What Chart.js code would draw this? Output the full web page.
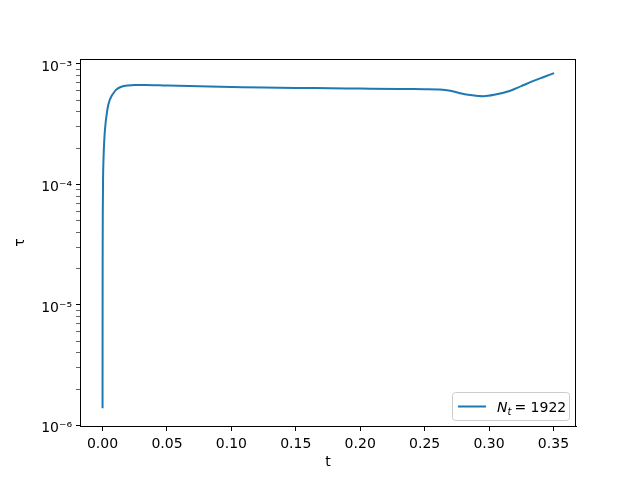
<!DOCTYPE html>
<html>
<head>
<meta charset="utf-8">
<script src="https://cdn.jsdelivr.net/npm/chart.js@4.4.1/dist/chart.umd.min.js"></script>
<style>
html, body { margin: 0; padding: 0; background: #fff; }
#wrap { width: 640px; height: 480px; }
</style>
</head>
<body>
<div id="wrap"><canvas id="tau_chart" width="640" height="480"></canvas></div>
<script>
// time step size tau vs time t
const timeValues = [0, 0.00002, 0.00005, 0.0001, 0.0002, 0.0004, 0.0008, 0.0015, 0.0023, 0.0032,
    0.0041, 0.0055, 0.0068, 0.008, 0.0105, 0.0132, 0.0165, 0.0197, 0.025, 0.0327, 0.05,
    0.075, 0.1, 0.125, 0.15, 0.1765, 0.2, 0.231, 0.25, 0.262, 0.27,
    0.2776, 0.287, 0.2957, 0.305, 0.3165, 0.325, 0.334, 0.3425, 0.3505];
const tauValues = [1.39e-6, 4e-6, 1.2e-5, 3e-5, 6e-5, 1.1e-4, 1.7e-4, 2.5e-4, 3.18e-4, 3.8e-4,
    4.4e-4, 5.0e-4, 5.37e-4, 5.64e-4, 6.1e-4, 6.38e-4, 6.56e-4, 6.64e-4, 6.7e-4, 6.7e-4, 6.62e-4,
    6.52e-4, 6.45e-4, 6.38e-4, 6.33e-4, 6.29e-4, 6.25e-4, 6.2e-4, 6.18e-4, 6.15e-4, 6.0e-4,
    5.72e-4, 5.5e-4, 5.4e-4, 5.58e-4, 6.0e-4, 6.55e-4, 7.2e-4, 7.8e-4, 8.4e-4];

const xTickValues = [0, 0.05, 0.1, 0.15, 0.2, 0.25, 0.3, 0.35];
const yMajorTicks = [1e-6, 1e-5, 1e-4, 1e-3];
const yTickLabels = ["10\u207B\u2076", "10\u207B\u2075", "10\u207B\u2074", "10\u207B\u00B3"];
const seriesCount = 1922;

const FONT = "'DejaVu Sans', sans-serif";
const LINE_COLOR = "#1f77b4";

function yTicksWithMinor() {
    const ticks = [];
    yMajorTicks.forEach((base, i) => {
        ticks.push({ value: base, major: true });
        if (i < yMajorTicks.length - 1) {
            for (let k = 2; k <= 9; k++) ticks.push({ value: base * k, major: false });
        }
    });
    return ticks;
}

// draws the top/right spines and the matplotlib-like legend
const framePlugin = {
    id: "frame",
    afterDatasetsDraw(chart) {
        const { ctx, chartArea: a } = chart;
        ctx.save();
        ctx.strokeStyle = "#000";
        ctx.lineWidth = 1;
        ctx.strokeRect(a.left + 0.5, a.top + 0.5, a.right - a.left - 1, a.bottom - a.top);

        // legend box
        const w = 117, h = 28;
        const x = a.right - 7 - w, y = a.bottom - 6 - h;
        ctx.beginPath();
        ctx.roundRect(x + 0.5, y + 0.5, w, h, 3);
        ctx.fillStyle = "rgba(255,255,255,0.8)";
        ctx.fill();
        ctx.strokeStyle = "#cccccc";
        ctx.stroke();

        const midY = y + h / 2 + 0.5;
        ctx.beginPath();
        ctx.moveTo(x + 6, midY);
        ctx.lineTo(x + 34, midY);
        ctx.strokeStyle = LINE_COLOR;
        ctx.lineWidth = 2;
        ctx.stroke();

        ctx.fillStyle = "#000";
        ctx.textBaseline = "alphabetic";
        const baseY = midY + 5;
        let tx = x + 45;
        ctx.font = "italic 14px " + FONT;
        ctx.fillText("N", tx, baseY);
        tx += ctx.measureText("N").width;
        ctx.font = "italic 10px " + FONT;
        ctx.fillText("t", tx, baseY + 3);
        tx += ctx.measureText("t").width + 3;
        ctx.font = "14px " + FONT;
        ctx.fillText("= " + seriesCount, tx, baseY);
        ctx.restore();
    }
};

function drawTauChart() {
    const points = timeValues.map((t, i) => ({ x: t, y: tauValues[i] }));

    new Chart(document.getElementById("tau_chart"), {
        type: "line",
        data: {
            datasets: [{
                label: "N_t = " + seriesCount,
                data: points,
                borderColor: LINE_COLOR,
                borderWidth: 2,
                pointRadius: 0,
                cubicInterpolationMode: "monotone",
                fill: false
            }]
        },
        options: {
            responsive: false,
            animation: false,
            devicePixelRatio: 1,
            layout: { padding: { top: 59, right: 64, left: 0, bottom: 0 } },
            plugins: {
                legend: { display: false },
                tooltip: { enabled: false }
            },
            scales: {
                x: {
                    type: "linear",
                    min: -0.0175,
                    max: 0.3675,
                    afterBuildTicks: scale => { scale.ticks = xTickValues.map(v => ({ value: v })); },
                    afterFit: scale => { scale.height = 54; },
                    grid: { drawOnChartArea: false, color: "#000", tickLength: 5 },
                    border: { color: "#000", width: 1 },
                    ticks: {
                        color: "#000",
                        font: { family: FONT, size: 14 },
                        padding: 5,
                        maxRotation: 0,
                        autoSkip: false,
                        callback: v => v.toFixed(2)
                    },
                    title: {
                        display: true,
                        text: "t",
                        color: "#000",
                        font: { family: FONT, size: 14 },
                        padding: { top: 0, bottom: 9 }
                    }
                },
                y: {
                    type: "logarithmic",
                    min: 9.9e-7,
                    max: 1.10e-3,
                    afterBuildTicks: scale => { scale.ticks = yTicksWithMinor(); },
                    afterFit: scale => { scale.width = 80; },
                    grid: {
                        drawOnChartArea: false,
                        color: "#000",
                        tickLength: 4,
                        tickWidth: c => (c.tick && c.tick.major ? 1 : 0.6)
                    },
                    border: { color: "#000", width: 1 },
                    ticks: {
                        color: "#000",
                        font: { family: FONT, size: 14 },
                        padding: 4,
                        labelOffset: 3,
                        autoSkip: false,
                        callback: (v) => {
                            const idx = yMajorTicks.findIndex(m => Math.abs(m - v) / m < 1e-6);
                            return idx >= 0 ? yTickLabels[idx] : "";
                        }
                    },
                    title: {
                        display: true,
                        text: "\u03C4",
                        color: "#000",
                        font: { family: FONT, size: 14 },
                        padding: { top: 12, bottom: 0 }
                    }
                }
            }
        },
        plugins: [framePlugin]
    });
}

document.addEventListener("DOMContentLoaded", drawTauChart);
</script>
</body>
</html>
